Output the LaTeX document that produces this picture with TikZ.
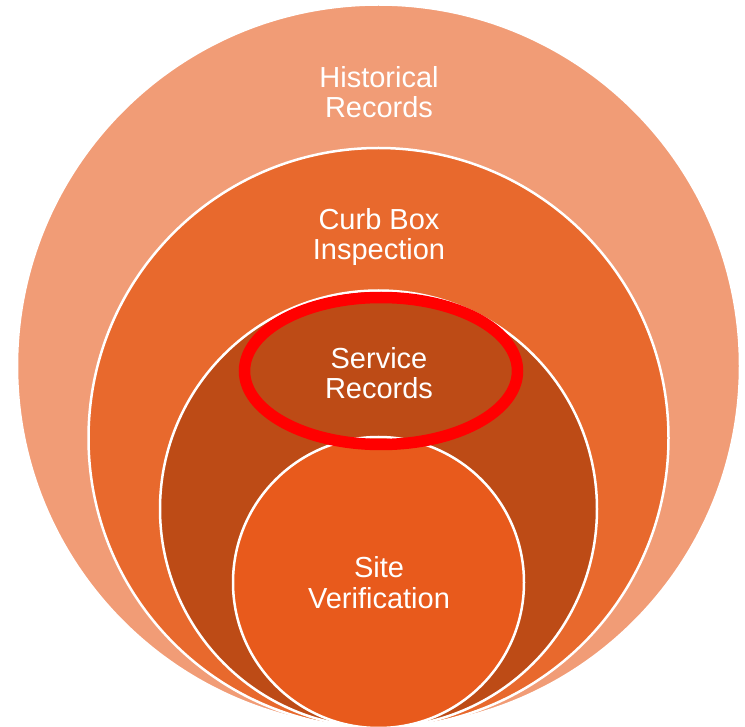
\documentclass[tikz,border=0pt]{standalone}
\usepackage{fontspec}
\setmainfont{Liberation Sans}
\definecolor{ringA}{HTML}{F19C76}
\definecolor{ringB}{HTML}{E8692D}
\definecolor{ringC}{HTML}{BD4B16}
\definecolor{ringD}{HTML}{E85A1C}
\definecolor{hiRed}{HTML}{FF0000}
\tikzset{
  ring/.style={draw=white, line width=2.5pt},
  lbl/.style={text=white, font=\fontsize{29}{30.5}\selectfont, align=center, inner sep=0pt, anchor=base},
  marker/.style={draw=hiRed, line width=11.5pt}
}
\begin{document}
\begin{tikzpicture}[x=1pt,y=-1pt]
\useasboundingbox (0,0) rectangle (745,727);
\fill[white] (0,0) rectangle (745,727);
\path[ring, fill=ringA] (378.5,366) circle[radius=361.5];
\path[ring, fill=ringB] (378.5,438) circle[radius=290];
\path[ring, fill=ringC] (378.5,509) circle[radius=218.5];
\path[ring, fill=ringD] (378.5,582.5) circle[radius=145.5];
\draw[marker] (381,371) ellipse[x radius=136.5, y radius=73.5];
\node[lbl] (hist) at (379,118) {Historical\\Records};
\node[lbl] (curb) at (379,260) {Curb Box\\Inspection};
\node[lbl] (serv) at (379,399) {Service\\Records};
\node[lbl] (site) at (379,608) {Site\\Verification};
\end{tikzpicture}
\end{document}
